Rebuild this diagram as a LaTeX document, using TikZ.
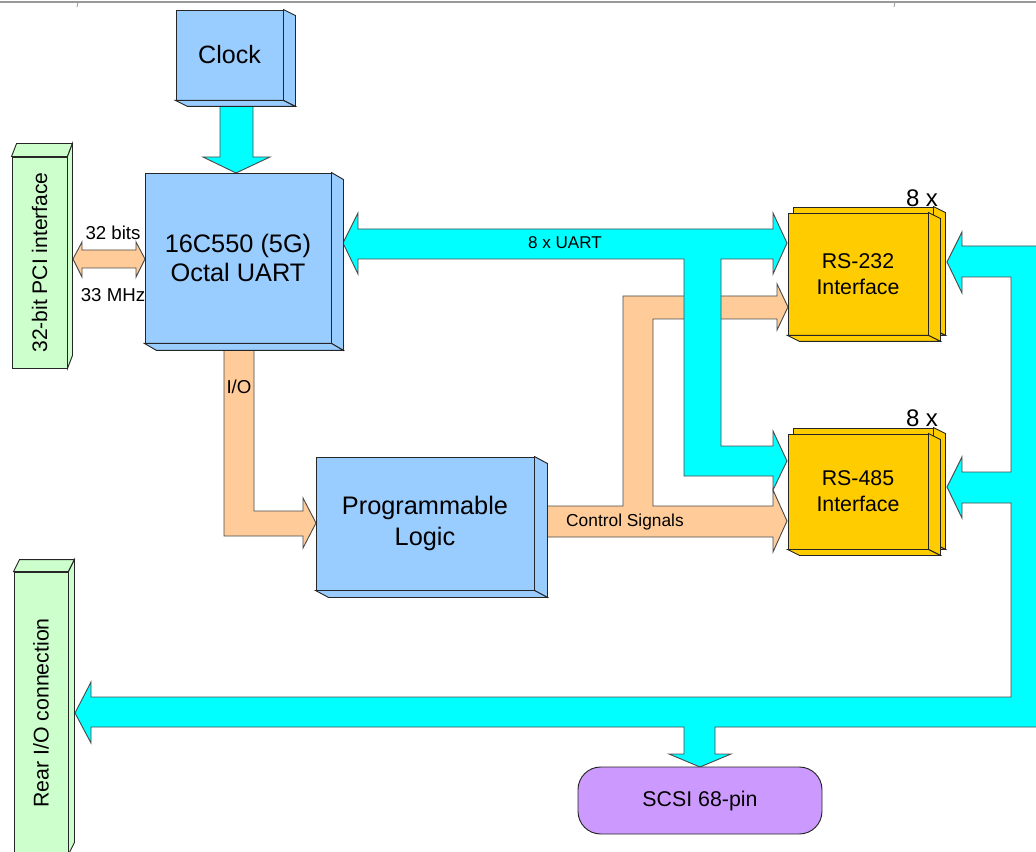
\documentclass[tikz,border=0pt]{standalone}
\usepackage{fontspec}
\setmainfont{Liberation Sans}
\usetikzlibrary{positioning,calc}

\definecolor{chipblue}{HTML}{99CCFF}
\definecolor{portgreen}{HTML}{CCFFCC}
\definecolor{ifyellow}{HTML}{FFCC00}
\definecolor{sigorange}{HTML}{FFCC99}
\definecolor{buscyan}{HTML}{00FFFF}
\definecolor{scsiviolet}{HTML}{CC99FF}

\tikzset{
  edge/.style={draw=black!85, line width=0.7pt, line join=miter},
  chip/.style={edge, fill=chipblue, inner sep=0pt, align=center},
  port/.style={edge, fill=portgreen, inner sep=0pt},
  card/.style={edge, fill=ifyellow, inner sep=0pt, align=center,
    font=\fontsize{16}{19.5}\selectfont},
  sigarrow/.style={edge, draw=black!70, fill=sigorange},
  busarrow/.style={edge, draw=black!70, fill=buscyan},
}

% depth faces to the right and below a node
\newcommand{\depthRB}[4]{%
  \draw[edge, fill=#4] (#1.north east) -- ++(#2,#3) -- ($(#1.south east)+(#2,#3)$) -- (#1.south east) -- cycle;
  \draw[edge, fill=#4] (#1.south west) -- ++(#2,#3) -- ($(#1.south east)+(#2,#3)$) -- (#1.south east) -- cycle;}
% depth faces above and to the right of a node
\newcommand{\depthTR}[4]{%
  \draw[edge, fill=#4] (#1.north west) -- ++(#2,#3) -- ($(#1.north east)+(#2,#3)$) -- (#1.north east) -- cycle;
  \draw[edge, fill=#4] (#1.north east) -- ++(#2,#3) -- ($(#1.south east)+(#2,#3)$) -- (#1.south east) -- cycle;}

\begin{document}
\begin{tikzpicture}[x=0.75pt, y=-0.75pt]
  \clip (0,0) rectangle (1036,852);

  % page rule at the top
  \draw[gray!80, line width=1.1pt] (0,2) -- (1036,2);
  \draw[gray!80, line width=0.6pt] (78,2) -- (77,7);
  \draw[gray!80, line width=0.6pt] (895,2) -- (894,7);

  % orange paths
  \draw[sigarrow] (73,259) -- (82,242) -- (82,250) -- (136,250) -- (136,242) -- (145,259)
    -- (136,277) -- (136,268) -- (82,268) -- (82,277) -- cycle;
  \draw[sigarrow] (224,340) -- (254,340) -- (254,511) -- (303,511) -- (303,498) -- (316,523)
    -- (303,548) -- (303,536) -- (224,536) -- cycle;
  \draw[sigarrow] (547,506) -- (623,506) -- (623,296) -- (777,296) -- (777,284) -- (788,307)
    -- (777,330) -- (777,319) -- (653,319) -- (653,506) -- (773,506) -- (773,490) -- (787,521)
    -- (773,552) -- (773,537) -- (547,537) -- cycle;

  % cyan buses
  \draw[busarrow] (220,104) -- (253,104) -- (253,157) -- (270,157) -- (236,173) -- (203,157)
    -- (220,157) -- cycle;
  \draw[busarrow] (343,243) -- (358,213) -- (358,229) -- (773,229) -- (773,213) -- (787,243)
    -- (773,274) -- (773,259) -- (721,259) -- (721,446) -- (773,446) -- (773,431) -- (787,461)
    -- (773,490) -- (773,476) -- (684,476) -- (684,259) -- (358,259) -- (358,274) -- cycle;
  \draw[busarrow] (947,262) -- (962,232) -- (962,246) -- (1050,246) -- (1050,727) -- (715,727)
    -- (715,754) -- (731,754) -- (700,767) -- (669,754) -- (684,754) -- (684,727) -- (91,727)
    -- (91,743) -- (75,713) -- (91,682) -- (91,697) -- (1011,697) -- (1011,503) -- (962,503)
    -- (962,518) -- (947,487) -- (962,457) -- (962,472) -- (1011,472) -- (1011,277) -- (962,277)
    -- (962,293) -- cycle;

  % blocks
  \node[chip, minimum width=80.25pt, minimum height=67.5pt, font=\fontsize{18.8}{22}\selectfont]
    (clock) at (229.5,55) {Clock};
  \depthRB{clock}{12}{6}{chipblue}

  \node[chip, minimum width=139.5pt, minimum height=127.5pt, font=\fontsize{19}{21.75}\selectfont]
    (uart) at (238,258) {16C550 (5G)\\Octal UART};
  \depthRB{uart}{12}{7}{chipblue}

  \node[chip, minimum width=163.5pt, minimum height=99.75pt, font=\fontsize{19}{23}\selectfont]
    (logic) at (425,523.5) {Programmable\\Logic};
  \depthRB{logic}{13}{7}{chipblue}

  \node[port, minimum width=41.25pt, minimum height=158.25pt] (pci) at (39.5,262.5) {};
  \depthTR{pci}{5}{-13}{portgreen}
  \node[rotate=90, font=\fontsize{15.8}{18}\selectfont] at (pci.center) {32-bit PCI interface};

  \node[port, minimum width=40.5pt, minimum height=211.5pt] (rear) at (41,713) {};
  \depthTR{rear}{6}{-12}{portgreen}
  \node[rotate=90, font=\fontsize{16}{18}\selectfont] at (rear.center) {Rear I/O connection};

  \node[card, minimum width=105pt, minimum height=91.5pt] (rs232back) at (863,268) {};
  \depthRB{rs232back}{12}{6}{ifyellow}
  \node[card, minimum width=105pt, minimum height=91.5pt] (rs232) at (858,274) {RS-232\\Interface};
  \depthRB{rs232}{12}{6}{ifyellow}

  \node[card, minimum width=105pt, minimum height=86.25pt] (rs485back) at (863,485.5) {};
  \depthRB{rs485back}{12}{6}{ifyellow}
  \node[card, minimum width=105pt, minimum height=86.25pt] (rs485) at (858,491.5) {RS-485\\Interface};
  \depthRB{rs485}{12}{6}{ifyellow}

  \node[edge, fill=scsiviolet, rounded corners=17pt, minimum width=183pt, minimum height=50.25pt,
    font=\fontsize{16}{19}\selectfont] (scsi) at (700,800.5) {SCSI 68-pin};

  % labels
  \node[font=\fontsize{18}{20}\selectfont] (rs232n) at (922,198) {8 x};
  \node[font=\fontsize{18}{20}\selectfont] (rs485n) at (922,418) {8 x};
  \node[font=\fontsize{12.8}{15}\selectfont] (uartbus) at (565,243) {8 x UART};
  \node[font=\fontsize{13}{15}\selectfont] (ctrl) at (625,522) {Control Signals};
  \node[font=\fontsize{14}{16}\selectfont] (pciw) at (113,233) {32 bits};
  \node[font=\fontsize{14}{16}\selectfont] (pcif) at (113,295) {33 MHz};
  \node[font=\fontsize{14}{16}\selectfont] (io) at (239,387) {I/O};
\end{tikzpicture}
\end{document}
